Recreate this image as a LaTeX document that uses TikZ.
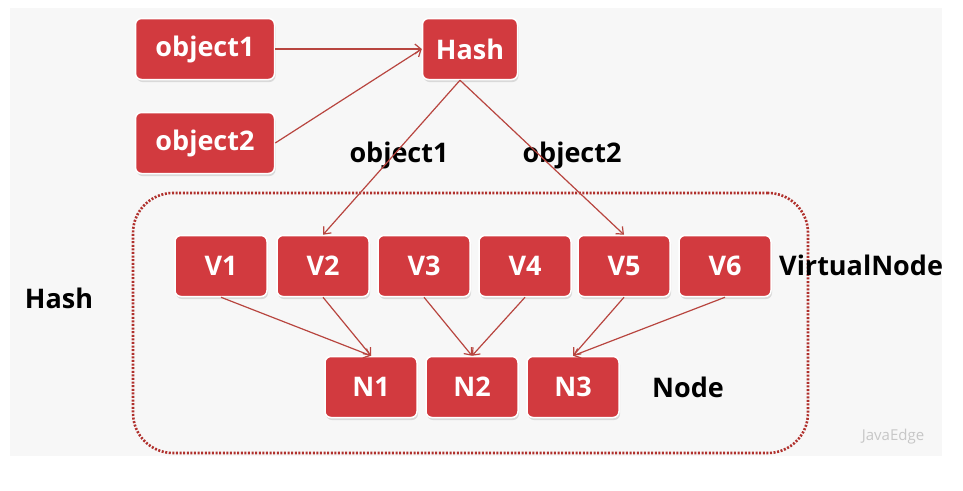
\documentclass[tikz,border=0pt]{standalone}
\usepackage{fontspec}
\setmainfont{Open Sans}
\usetikzlibrary{arrows.meta,shadows}
\definecolor{boxred}{HTML}{D23A3F}
\definecolor{arrred}{HTML}{B8453F}
\definecolor{frred}{HTML}{B0302C}
\begin{document}
\begin{tikzpicture}[x=1pt,y=-1pt,
  box/.style={rectangle, rounded corners=6pt, fill=boxred, draw=white, line width=1.5pt,
    text=white, font=\fontsize{27}{30}\selectfont\bfseries, minimum height=61pt,
    drop shadow={opacity=0.25, shadow xshift=1pt, shadow yshift=-2.5pt}},
  vbox/.style={box, minimum width=92pt},
  lbl/.style={text=black, font=\fontsize{27}{30}\selectfont\bfseries, inner sep=0pt},
  conn/.style={draw=arrred, line width=1.2pt, -{Straight Barb[length=6pt,width=10pt]}}
]
\useasboundingbox (0,0) rectangle (963,490);
\fill[black!3] (10,8) rectangle (942,456);

\node[draw=frred, line width=2.6pt, dash pattern=on 2pt off 1.6pt, rounded corners=40pt,
  minimum width=675pt, minimum height=260pt, inner sep=0pt] (frame) at (470.5,323) {};

\node[box, minimum width=139pt] (o1) at (205,49) {object1};
\node[box, minimum width=139pt] (o2) at (205,143) {object2};
\node[box, minimum width=95pt] (hash) at (470,49) {Hash};

\node[vbox] (v1) at (221,266) {V1};
\node[vbox] (v2) at (323,266) {V2};
\node[vbox] (v3) at (424,266) {V3};
\node[vbox] (v4) at (525,266) {V4};
\node[vbox] (v5) at (624,266) {V5};
\node[vbox] (v6) at (725,266) {V6};

\node[vbox] (n1) at (371,387) {N1};
\node[vbox] (n2) at (472,387) {N2};
\node[vbox] (n3) at (573,387) {N3};

\node[lbl] (lo1) at (399,155) {object1};
\node[lbl] (lo2) at (572,155) {object2};
\node[lbl, anchor=west] (lvn) at (779,265) {VirtualNode};
\node[lbl] (lnode) at (688,387) {Node};
\node[lbl] (lhash) at (59,298) {Hash};
\node[text=black!22, font=\fontsize{15}{17}\selectfont, inner sep=0pt] (wm) at (893,437) {JavaEdge};

\draw[conn] (o1.east) -- (hash.west);
\draw[conn] (o2.east) -- (hash.west);
\draw[conn] ([xshift=-10pt]hash.south) -- (v2.north);
\draw[conn] ([xshift=-10pt]hash.south) -- (v5.north);
\draw[conn] (v1.south) -- (n1.north);
\draw[conn] (v2.south) -- (n1.north);
\draw[conn] (v3.south) -- (n2.north);
\draw[conn] (v4.south) -- (n2.north);
\draw[conn] (v5.south) -- (n3.north);
\draw[conn] (v6.south) -- (n3.north);
\end{tikzpicture}
\end{document}
